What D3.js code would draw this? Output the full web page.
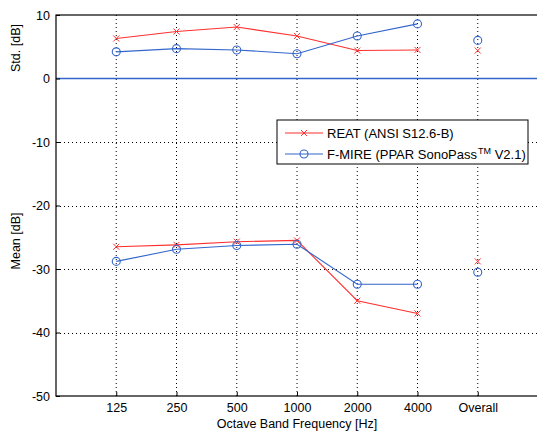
<!DOCTYPE html>
<html>
<head>
<meta charset="utf-8">
<script src="https://cdn.jsdelivr.net/npm/d3@7"></script>
<style>
  body { margin: 0; background: #fff; }
  text { font-family: "Liberation Sans", Arial, sans-serif; }
</style>
</head>
<body>
<div id="chart"></div>
<script>
// values
var categories = ["125", "250", "500", "1000", "2000", "4000", "Overall"];
var reatStd   = [6.3, 7.4, 8.1, 6.7, 4.4, 4.5, 4.4];
var fmireStd  = [4.2, 4.7, 4.5, 3.9, 6.7, 8.6, 6.0];
var reatMean  = [-26.5, -26.2, -25.7, -25.5, -35.0, -37.0, -28.8];
var fmireMean = [-28.8, -26.9, -26.3, -26.1, -32.4, -32.4, -30.5];
var yTicks = [-50, -40, -30, -20, -10, 0, 10];
var legendLabels = ["REAT (ANSI S12.6-B)", "F-MIRE (PPAR SonoPass"];

var width = 537,
	height = 431,
	margin = { left: 56, top: 15, right: 538, bottom: 396 },
	RED = "#ff3030",
	BLUE = "#3366cc";

var svg = d3.select("#chart").append("svg")
	.attr("width", width)
	.attr("height", height);

var x = d3.scaleLinear().domain([0, 8]).range([margin.left, margin.right]);
var y = d3.scaleLinear().domain([-50, 10]).range([margin.bottom, margin.top]);

var plot = svg.append("g");

// dotted grid
plot.selectAll(".vgrid")
	.data(categories)
	.enter().append("line")
	.attr("x1", function(d, i) { return x(i + 1); })
	.attr("x2", function(d, i) { return x(i + 1); })
	.attr("y1", y(10))
	.attr("y2", y(-50))
	.style("stroke", "#000")
	.style("stroke-width", 1)
	.style("stroke-dasharray", "1,3");

plot.selectAll(".hgrid")
	.data(yTicks.filter(function(d) { return d > -50 && d < 0; }))
	.enter().append("line")
	.attr("x1", margin.left)
	.attr("x2", margin.right)
	.attr("y1", function(d) { return Math.round(y(d)) + 0.5; })
	.attr("y2", function(d) { return Math.round(y(d)) + 0.5; })
	.style("stroke", "#000")
	.style("stroke-width", 1)
	.style("stroke-dasharray", "1,3");

// the zero line
plot.append("line")
	.attr("x1", margin.left)
	.attr("x2", margin.right)
	.attr("y1", y(0))
	.attr("y2", y(0))
	.style("stroke", BLUE)
	.style("stroke-width", 1.3);

// axes (matlab style: plain hyphen for minus, ticks pointing inward)
var yAxis = d3.axisLeft(y).tickValues(yTicks).tickSize(-4).tickPadding(6)
	.tickFormat(function(d) { return String(d); });
var xAxis = d3.axisBottom(x).tickValues(d3.range(1, 8)).tickSize(-4).tickPadding(7)
	.tickFormat(function(d) { return categories[d - 1]; });

var gy = svg.append("g").attr("transform", "translate(" + margin.left + ",0)").call(yAxis);
var gx = svg.append("g").attr("transform", "translate(0," + margin.bottom + ")").call(xAxis);
[gx, gy].forEach(function(g) {
	g.select(".domain").remove();
	g.selectAll("text").style("font-size", "12.5px").style("fill", "#000");
	g.selectAll("line").style("stroke", "#000");
});

// box
svg.append("rect")
	.attr("x", margin.left)
	.attr("y", margin.top)
	.attr("width", margin.right - margin.left)
	.attr("height", margin.bottom - margin.top)
	.style("fill", "none")
	.style("stroke", "#000")
	.style("stroke-width", 1.2);

var line = d3.line()
	.x(function(d, i) { return x(i + 1); })
	.y(function(d) { return y(d); });

function drawSeries(values, color, marker) {
	// line only through the octave bands, Overall is a lone marker
	plot.append("path")
		.attr("d", line(values.slice(0, 6)))
		.style("fill", "none")
		.style("stroke", color)
		.style("stroke-width", 1.1);
	values.forEach(function(v, i) {
		drawMarker(plot, x(i + 1), y(v), color, marker);
	});
}

function drawMarker(g, cx, cy, color, marker) {
	if (marker == "o") {
		g.append("circle")
			.attr("cx", cx).attr("cy", cy).attr("r", 4)
			.style("fill", "none").style("stroke", color).style("stroke-width", 1.1);
	} else {
		var s = 3;
		g.append("path")
			.attr("d", "M" + (cx - s) + "," + (cy - s) + "L" + (cx + s) + "," + (cy + s) +
				"M" + (cx - s) + "," + (cy + s) + "L" + (cx + s) + "," + (cy - s))
			.style("stroke", color).style("stroke-width", 1);
	}
}

drawSeries(reatStd, RED, "x");
drawSeries(fmireStd, BLUE, "o");
drawSeries(reatMean, RED, "x");
drawSeries(fmireMean, BLUE, "o");

// axis titles
svg.append("text")
	.attr("transform", "translate(20,48) rotate(-90)")
	.style("text-anchor", "middle")
	.style("font-size", "12.5px")
	.text("Std. [dB]");

svg.append("text")
	.attr("transform", "translate(20,241) rotate(-90)")
	.style("text-anchor", "middle")
	.style("font-size", "12.5px")
	.text("Mean [dB]");

svg.append("text")
	.attr("x", x(4))
	.attr("y", 428)
	.style("text-anchor", "middle")
	.style("font-size", "12.5px")
	.text("Octave Band Frequency [Hz]");

// legend
var legend = svg.append("g").attr("transform", "translate(277,120)");
legend.append("rect")
	.attr("width", 251).attr("height", 44)
	.style("fill", "#fff").style("stroke", "#000").style("stroke-width", 1);

var legendColors = [RED, BLUE], legendMarkers = ["x", "o"];
legendLabels.forEach(function(lbl, i) {
	var ly = 13 + i * 21;
	legend.append("line")
		.attr("x1", 8).attr("x2", 46).attr("y1", ly).attr("y2", ly)
		.style("stroke", legendColors[i]).style("stroke-width", 1.1);
	drawMarker(legend, 27, ly, legendColors[i], legendMarkers[i]);
	var t = legend.append("text")
		.attr("x", 50).attr("y", ly + 4.5)
		.style("font-size", "13px")
		.text(lbl);
	if (i == 1) {
		t.append("tspan").attr("dx", 1).attr("dy", -5).style("font-size", "9px").text("TM");
		t.append("tspan").attr("dy", 5).text(" V2.1)");
	}
});
</script>
</body>
</html>
